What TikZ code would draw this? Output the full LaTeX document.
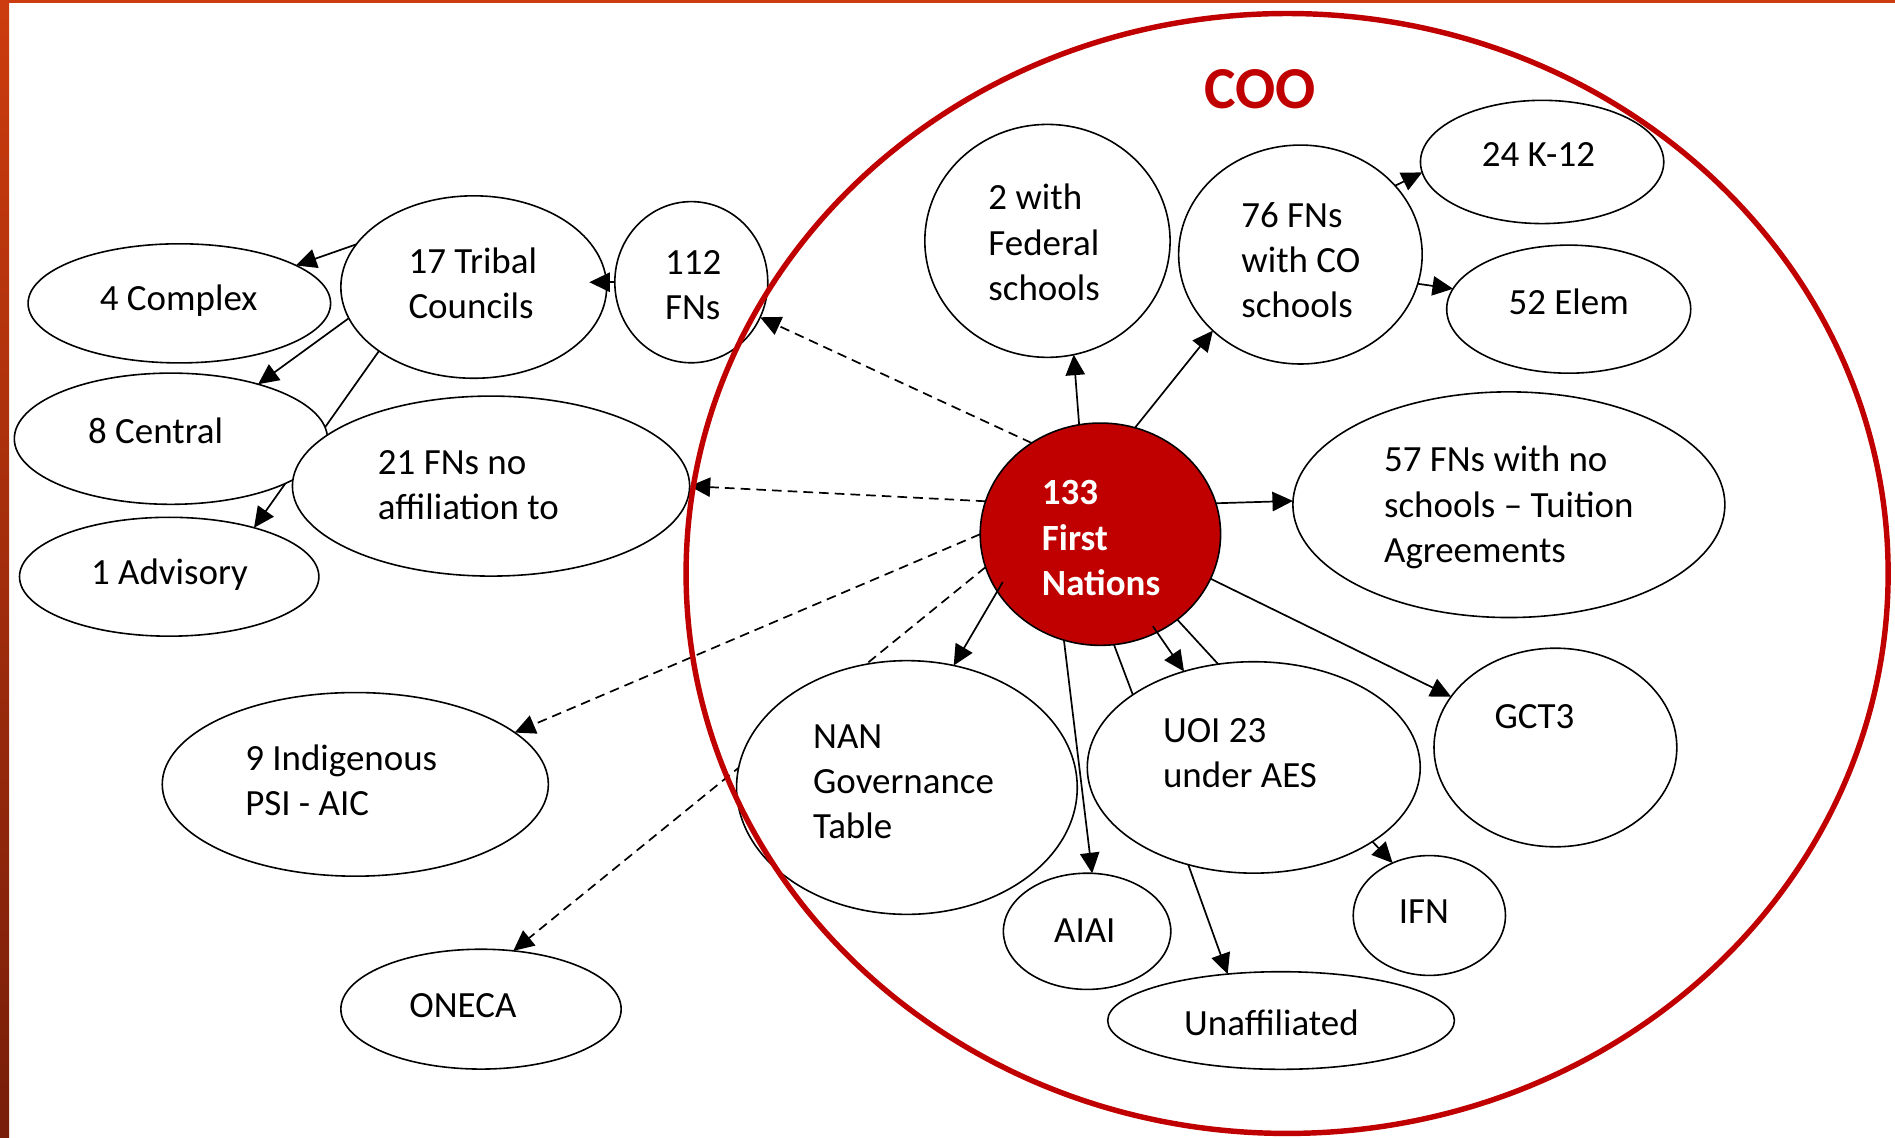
\documentclass[tikz,border=0pt]{standalone}
\usepackage{fontspec}
\setmainfont{Carlito}
\usetikzlibrary{shapes.geometric,arrows.meta}
\definecolor{cred}{RGB}{192,0,0}
\definecolor{bartop}{RGB}{204,60,14}
\definecolor{barbot}{RGB}{120,30,10}
\pgfdeclarelayer{bg}
\pgfdeclarelayer{fg}
\pgfsetlayers{bg,main,fg}
\begin{document}
\begin{tikzpicture}[x=0.02cm,y=-0.02cm,
  E/.style 2 args={minimum width=#1*0.04cm, minimum height=#2*0.04cm},
  bub/.style={ellipse, draw=black, line width=0.75pt, fill=white, inner sep=0pt, outer sep=0pt},
  lbl/.style={font=\fontsize{17.4}{21.34}\selectfont, inner sep=0pt, align=left, anchor=west},
  clbl/.style={font=\fontsize{17.4}{21.34}\selectfont, inner sep=0pt},
  link/.style={line width=0.8pt},
  arr/.style={link, -{Triangle[length=0.34cm,width=0.32cm]}},
  dsh/.style={arr, dash pattern=on 0.16cm off 0.1cm}]
\useasboundingbox (0,0) rectangle (1568,941.6);
\begin{pgfonlayer}{bg}
\fill[white] (0,0) rectangle (1568,941.6);
\shade[top color=bartop, bottom color=barbot] (0,0) rectangle (7.6,941.6);
\fill[bartop] (0,0) rectangle (1568,2.5);
\end{pgfonlayer}

% bubbles
\node[bub,E={125.2}{49.3}] (cx) at (148.4,251) {};
\node[bub,E={110}{75.5}] (tc) at (392,237.5) {};
\node[bub,E={63.3}{66.7}] (fn) at (572,233.5) {};
\node[bub,E={129.6}{54.3}] (ce) at (141.4,363) {};
\node[bub,E={164.4}{74.5}] (na) at (406.3,402.2) {};
\node[bub,E={123.9}{49.2}] (ad) at (140,477.2) {};
\node[bub,E={159.8}{76}] (ip) at (294,649) {};
\node[bub,E={116}{49.6}] (on) at (398,835) {};
\node[bub,E={101.5}{96.4}] (fd) at (866.7,199.3) {};
\node[bub,E={100.8}{90.6}] (co) at (1076,210.6) {};
\node[bub,E={100.7}{51}] (k12) at (1276,134) {};
\node[bub,E={101}{53}] (el) at (1298,255.8) {};
\node[bub,E={178.8}{93.4}] (tu) at (1248.5,417.6) {};
\node[bub,E={141}{105}] (nan) at (750.4,651.6) {};
\node[bub,E={137.8}{87.5}] (uoi) at (1037.4,635) {};
\node[bub,E={100.5}{82.2}] (gct) at (1287,618.5) {};
\node[bub,E={69.3}{48.1}] (aiai) at (899.5,770.6) {};
\node[bub,E={63}{49.6}] (ifn) at (1182.7,757.5) {};
\node[bub,E={143.5}{40.4}] (un) at (1060,844.4) {};
\node[bub,fill=cred,E={99.5}{92}] (fnn) at (910.5,442) {};

% labels
\node[lbl] (cx-t) at (82.3,248.6) {4 Complex};
\node[lbl] (tc-t) at (337.7,234.2) {17 Tribal\\Councils};
\node[lbl] (fn-t) at (550,235.9) {112\\FNs};
\node[lbl] (ce-t) at (72.6,356.2) {8 Central};
\node[lbl] (na-t) at (312.4,401.3) {21 FNs no\\affiliation to};
\node[lbl] (ad-t) at (75,475.3) {1 Advisory};
\node[lbl] (ip-t) at (202.6,645.8) {9 Indigenous\\PSI - AIC};
\node[clbl] (on-t) at (383,832) {ONECA};
\node[lbl] (fd-t) at (817.5,200.5) {2 with\\Federal\\schools};
\node[lbl] (co-t) at (1026.8,215.4) {76 FNs\\with CO\\schools};
\node[clbl] (k12-t) at (1272.9,127.6) {24 K-12};
\node[clbl] (el-t) at (1298,249.7) {52 Elem};
\node[lbl] (tu-t) at (1144.9,420) {57 FNs with no\\schools \textendash{} Tuition\\Agreements};
\node[lbl, text=white, font=\fontsize{17.4}{21.34}\selectfont\bfseries] (fnn-t) at (861.8,445.2) {133\\First\\Nations};
\node[lbl] (nan-t) at (672.5,646.9) {NAN\\Governance\\Table};
\node[lbl] (uoi-t) at (962,623.4) {UOI 23\\under AES};
\node[clbl] (gct-t) at (1269.7,593.2) {GCT3};
\node[clbl] (aiai-t) at (897.6,770) {AIAI};
\node[clbl] (ifn-t) at (1178.2,754.4) {IFN};
\node[clbl] (un-t) at (1052,846.6) {Unaffiliated};

% connectors
\draw[arr] (tc.160.3) -- (cx.18.8);
\draw[arr] (tc.194.2) -- (ce.32.3);
\draw[arr] (fn.west) -- ++(-21.1,0);
\draw[arr] (fnn.101.5) -- (fd.283.5);
\draw[arr] (fnn.72.3) -- (co.221.5);
\draw[arr] (co.36.4) -- (k12.185.7);
\draw[arr] (co.346.9) -- (el.170.3);
\draw[arr] (fnn.15.1) -- (tu.179);
\draw[arr, shorten <=-0.18cm] (fnn.209.7) -- (nan.69);
\draw[arr] (fnn.251.7) -- (aiai.85.5);
\draw[link] (fnn.277.5) -- (uoi.149.2);
\draw[arr, shorten <=-0.12cm] (fnn.300.6) -- (uoi.126.6);
\draw[link] (fnn.312.3) -- (uoi.109.6);
\draw[arr] (fnn.338.7) -- (gct.154.8);
\draw[arr] (uoi.328.3) -- (ifn.125);
\draw[arr] (uoi.236.1) -- (un.139.7);
\draw[dsh] (fnn.127.2) -- (fn.333.7);
\draw[dsh] (fnn.164.8) -- (na.0.6);
\draw[dsh] (fnn.180) -- (ip.18.2);

\begin{pgfonlayer}{bg}
\draw[arr] (tc.214.1) -- (ad.30.3);
\draw[dsh] (fnn.196.9) -- (on.61.1);
\end{pgfonlayer}

\begin{pgfonlayer}{fg}
\node[ellipse, draw=cred, line width=0.09cm, inner sep=0pt, E={497.5}{463.5}] (coo) at (1065,474.5) {};
\node[font=\fontsize{28}{34}\selectfont\bfseries, text=cred, inner sep=0pt] (coo-t) at (1042.7,73.7) {COO};
\end{pgfonlayer}
\end{tikzpicture}
\end{document}
